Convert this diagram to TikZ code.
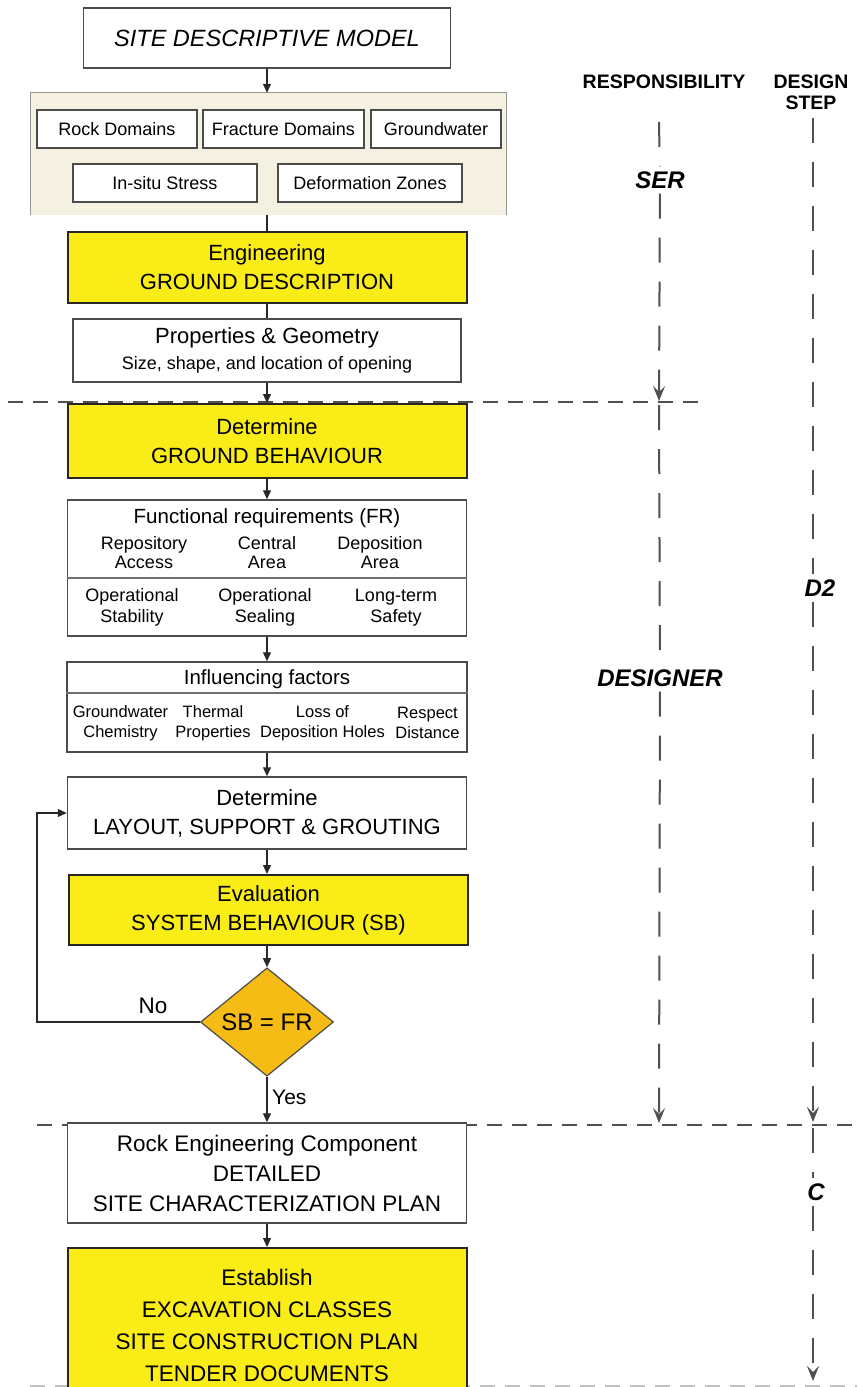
\documentclass[tikz,border=0pt]{standalone}
\usepackage{fontspec}
\setmainfont{Liberation Sans}
\usetikzlibrary{positioning, arrows.meta, shapes.geometric, backgrounds}

\definecolor{stepYellow}{RGB}{250,236,22}
\definecolor{checkOrange}{RGB}{246,188,22}
\definecolor{panelBeige}{RGB}{245,241,226}
\definecolor{panelEdge}{RGB}{150,150,145}
\definecolor{boxLine}{RGB}{75,75,75}
\definecolor{flowGray}{RGB}{40,40,40}
\definecolor{laneGray}{RGB}{80,80,80}

\def\colMain{267}
\def\colResp{659}
\def\colStep{813}
\def\colLoop{37}
\def\boxWidth{399pt}
\def\rowSplitA{402}
\def\rowSplitB{1125}

\newcommand{\fsBig}{\fontsize{22}{29}\selectfont}
\newcommand{\fsMid}{\fontsize{18}{19}\selectfont}
\newcommand{\fsSmall}{\fontsize{16.5}{20}\selectfont}

\begin{document}
\begin{tikzpicture}[
    x=1pt, y=-1pt, % pixel grid of the page, y going down
    >={Triangle[length=9pt,width=8pt]},
    flow/.style    ={->, line width=1.3pt, flowGray},
    link/.style    ={line width=1.3pt, flowGray},
    divider/.style ={line width=1.2pt, boxLine!80},
    stepBox/.style ={rectangle, draw=boxLine, line width=1.5pt, minimum width=\boxWidth,
                     align=center, font=\fsBig, inner sep=0pt},
    keyBox/.style  ={stepBox, fill=stepYellow, draw=black!85, line width=2pt},
    plainBox/.style={stepBox, fill=white},
    domainBox/.style={rectangle, draw=boxLine, line width=1.4pt, fill=white,
                     minimum height=38pt, font={\fontsize{18}{20}\selectfont}, inner sep=0pt},
    decision/.style={diamond, fill=checkOrange, draw=boxLine, line width=1.2pt,
                     minimum width=133pt, minimum height=104pt, inner sep=0pt,
                     font={\fontsize{24}{28}\selectfont}},
    subItem/.style ={align=center, inner sep=0pt, font=\fsMid},
    factorItem/.style={align=center, inner sep=0pt, font=\fsSmall},
    sideHead/.style={align=center, inner sep=0pt, font={\bfseries\fontsize{19.5}{21}\selectfont}},
    sideTag/.style ={inner sep=5pt, font={\bfseries\itshape\fontsize{24}{28}\selectfont}},
    lane/.style    ={laneGray, line width=2pt, dash pattern=on 25pt off 19pt},
    laneEnd/.style ={lane, -{Stealth[length=15pt,width=12pt,inset=6pt]}},
    split/.style   ={laneGray, line width=2.2pt, dash pattern=on 15pt off 10pt},
]
\useasboundingbox (0,0) rectangle (857,1387);

% =====================================================
% Phase borders (drawn first, boxes paint over them)
% =====================================================
\coordinate (splitAW) at (8,\rowSplitA);
\coordinate (splitAE) at (705,\rowSplitA);
\coordinate (splitBW) at (\colLoop,\rowSplitB);
\coordinate (splitBE) at (857,\rowSplitB);
\coordinate (splitCW) at (30,1386);
\coordinate (splitCE) at (857,1386);
\draw[split] (splitAW) -- (splitAE);
\draw[split] (splitBW) -- (splitBE);
\draw[split, laneGray!35] (splitCW) -- (splitCE);

% =====================================================
% Site descriptive model + domains panel
% =====================================================
\node[plainBox, minimum width=367pt, minimum height=60pt, font={\itshape\fontsize{23.5}{28}\selectfont}]
                       (sdm)      at (\colMain,38)  {SITE DESCRIPTIVE MODEL};

\node[fill=panelBeige, minimum width=475pt, minimum height=122pt, inner sep=0pt]
                       (panel)    at (268.5,154)    {};
\draw[panelEdge, line width=1.2pt] (panel.south west) -- (panel.north west)
                                   -- (panel.north east) -- (panel.south east);

\node[domainBox, minimum width=160pt] (rockDom)  at (117,129)   {Rock Domains};
\node[domainBox, minimum width=161pt] (fracDom)  at (283.5,129) {Fracture Domains};
\node[domainBox, minimum width=130pt] (gwDom)    at (436,129)   {Groundwater};
\node[domainBox, minimum width=184pt] (stress)   at (165,183)   {In-situ Stress};
\node[domainBox, minimum width=184pt] (defZones) at (370,183)   {Deformation Zones};

% =====================================================
% Main column: description and design steps
% =====================================================
\node[keyBox, minimum height=71pt]   (groundDesc) at (\colMain,267.5) {Engineering\\GROUND DESCRIPTION};
\node[plainBox, minimum width=388pt, minimum height=63pt, font={\fontsize{18}{26}\selectfont}]
                                      (propGeo)    at (\colMain,350.5)
      {{\fontsize{22}{26}\selectfont Properties \& Geometry}\\Size, shape, and location of opening};
\node[keyBox, minimum height=74pt]   (groundBeh)  at (\colMain,441)   {Determine\\GROUND BEHAVIOUR};

% Functional requirements table
\node[plainBox, minimum height=136pt] (frBox)     at (\colMain,568)   {};
\node[inner sep=0pt, font={\fontsize{20.5}{24}\selectfont}] (frTitle) at (\colMain,518) {Functional requirements (FR)};
\node[subItem] (frAccess)  at (144,552.5) {Repository\\Access};
\node[subItem] (frCentral) at (267,552.5) {Central\\Area};
\node[subItem] (frDepo)    at (380,552.5) {Deposition\\Area};
\node[subItem, font={\fontsize{18}{21}\selectfont}] (frStab)   at (132,607.5) {Operational\\Stability};
\node[subItem, font={\fontsize{18}{21}\selectfont}] (frSeal)   at (265,607.5) {Operational\\Sealing};
\node[subItem, font={\fontsize{18}{21}\selectfont}] (frSafety) at (396,607.5) {Long-term\\Safety};
\draw[divider] ([yshift=-10pt]frBox.west) -- ([yshift=-10pt]frBox.east);

% Influencing factors table
\node[plainBox, minimum width=400pt, minimum height=90pt] (infBox) at (\colMain,707) {};
\node[inner sep=0pt, font={\fontsize{20.5}{24}\selectfont}] (infTitle) at (\colMain,679) {Influencing factors};
\node[factorItem] (infChem)    at (120.5,723) {Groundwater\\Chemistry};
\node[factorItem] (infThermal) at (213,723)   {Thermal\\Properties};
\node[factorItem] (infHoles)   at (322.5,723) {Loss of\\Deposition Holes};
\node[factorItem] (infRespect) at (427.5,723) {Respect\\Distance};
\draw[divider] ([yshift=14pt]infBox.west) -- ([yshift=14pt]infBox.east);

\node[plainBox, minimum height=72pt] (layout) at (\colMain,813)  {Determine\\LAYOUT, SUPPORT \& GROUTING};
\node[keyBox, minimum height=70pt]   (evalSB) at (268.5,910)     {Evaluation\\SYSTEM BEHAVIOUR (SB)};
\node[decision]                      (check)  at (\colMain,1022) {SB = FR};

\node[plainBox, minimum height=100pt, font={\fontsize{22.5}{30}\selectfont}] (siteChar) at (\colMain,1173)
      {Rock Engineering Component\\DETAILED\\SITE CHARACTERIZATION PLAN};
\node[keyBox, minimum height=154pt, anchor=north, font={\fontsize{22.5}{32}\selectfont}] (establish) at (\colMain,1247)
      {Establish\\EXCAVATION CLASSES\\SITE CONSTRUCTION PLAN\\TENDER DOCUMENTS};

% =====================================================
% Connectors (all straight down the main column)
% =====================================================
\draw[flow] (sdm.south)        -- (sdm.south |- panel.north);
\draw[link] (sdm.south |- panel.south) -- (groundDesc.north);
\draw[link] (groundDesc.south) -- (propGeo.north);
\draw[flow] (propGeo.south)    -- (groundBeh.north);
\draw[flow] (groundBeh.south)  -- (frBox.north);
\draw[flow] (frBox.south)      -- (infBox.north);
\draw[flow] (infBox.south)     -- (layout.north);
\draw[flow] (layout.south)     -- (layout.south |- evalSB.north);
\draw[flow] (layout.south |- evalSB.south) -- (check.north);
\draw[flow] (check.south)      -- (siteChar.north);
\draw[flow] (siteChar.south)   -- (establish.north);

% No loop back to layout
\coordinate (loopCorner) at (\colLoop,1022);
\draw[flow] (check.west) -- (loopCorner) |- (layout.west);
\node[inner sep=0pt, font={\fontsize{22.5}{26}\selectfont}] (noLabel)  at (153,1006) {No};
\node[inner sep=0pt, anchor=west, font={\fontsize{21}{26}\selectfont}] (yesLabel) at (272,1097) {Yes};

% =====================================================
% Right side: responsibility and design step lanes
% =====================================================
\node[sideHead] (respHead) at (664,82)  {RESPONSIBILITY};
\node[sideHead] (stepHead) at (811,92)  {DESIGN\\STEP};

\coordinate (respTop)  at (\colResp,122);
\coordinate (respMid)  at (\colResp,401);
\coordinate (respLow)  at (\colResp,405);
\coordinate (respEnd)  at (\colResp,1123);
\node[sideTag] (ser)      at (660,180) {SER};
\node[sideTag] (designer) at (660,678) {DESIGNER};
\draw[lane]    (respTop)  -- (ser);
\draw[laneEnd] (ser)      -- (respMid);
\draw[lane]    (respLow)  -- (designer);
\draw[laneEnd] (designer) -- (respEnd);

\coordinate (stepTop) at (\colStep,118);
\coordinate (stepMid) at (\colStep,1122);
\coordinate (stepLow) at (\colStep,1128);
\coordinate (stepEnd) at (\colStep,1381);
\node[sideTag] (stepD2) at (820,588)  {D2};
\node[sideTag] (stepC)  at (816,1192) {C};
\draw[lane]    (stepTop) -- (stepTop |- stepD2.north);
\draw[laneEnd] (stepTop |- stepD2.south) -- (stepMid);
\draw[lane]    (stepLow) -- (stepLow |- stepC.north);
\draw[laneEnd] (stepLow |- stepC.south) -- (stepEnd);

\end{tikzpicture}
\end{document}
